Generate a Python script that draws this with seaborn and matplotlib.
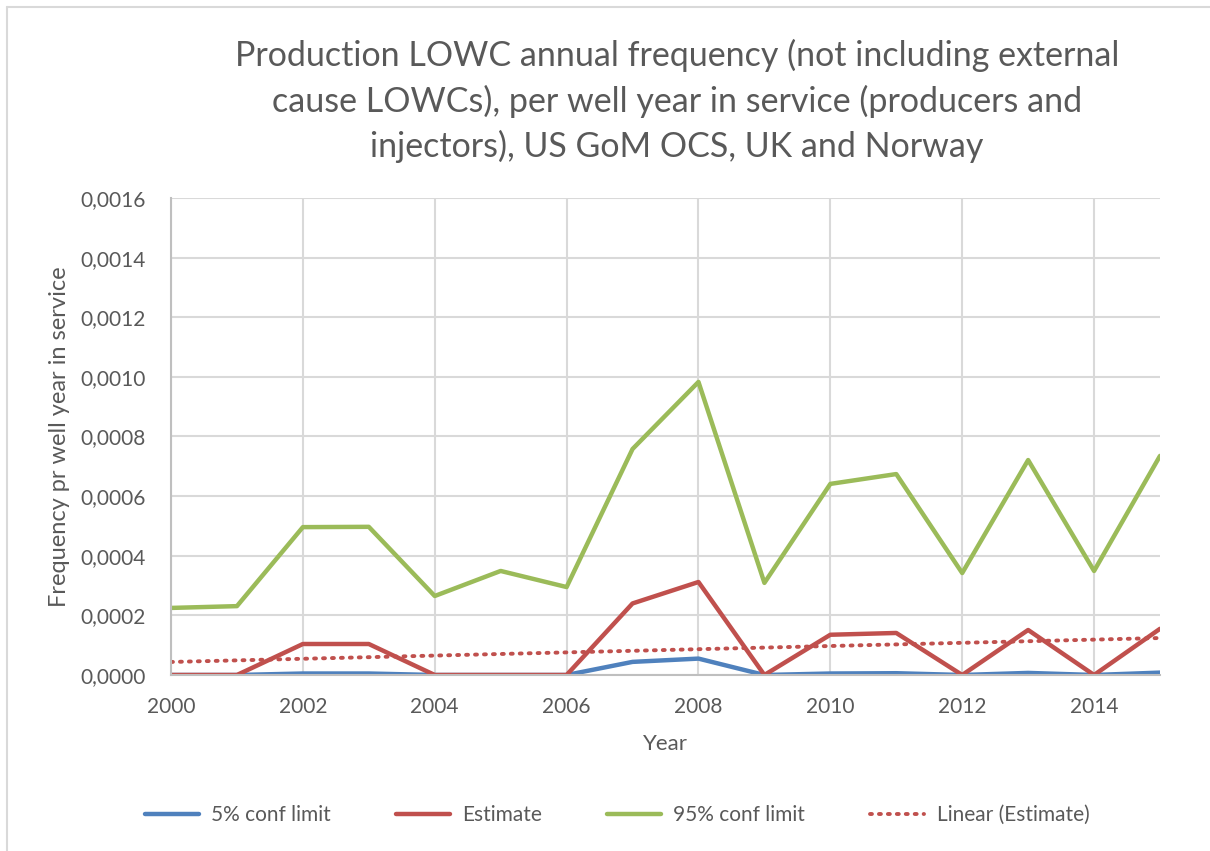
import numpy as np
import pandas as pd
import matplotlib
matplotlib.use("Agg")
import matplotlib.pyplot as plt
from matplotlib.ticker import FuncFormatter, MultipleLocator
from matplotlib.lines import Line2D
import seaborn as sns

# Dados (frequência anual por poço-ano em serviço)
anos = list(range(2000, 2016))
limite_5 = [0.0, 0.0, 0.000005, 0.000005, 0.0, 0.0, 0.0, 0.000044,
            0.000055, 0.0, 0.000005, 0.000006, 0.0, 0.000007, 0.0, 0.000008]
estimativa = [0.0, 0.0, 0.000104, 0.000104, 0.0, 0.0, 0.0, 0.000240,
              0.000312, 0.0, 0.000135, 0.000141, 0.0, 0.000151, 0.0, 0.000155]
limite_95 = [0.000225, 0.000231, 0.000496, 0.000497, 0.000265, 0.000349, 0.000295, 0.000758,
             0.000983, 0.000309, 0.000641, 0.000674, 0.000342, 0.000721, 0.000349, 0.000735]

series = ['5% conf limit', 'Estimate', '95% conf limit']
cores = ['#4f81bd', '#c0504d', '#9bbb59']

titulo = ("Production LOWC annual frequency (not including external\n"
          "cause LOWCs), per well year in service (producers and\n"
          "injectors), US GoM OCS, UK and Norway")

df = pd.DataFrame({'Year': anos, series[0]: limite_5,
                   series[1]: estimativa, series[2]: limite_95})
df_longo = df.melt(id_vars='Year', var_name='serie', value_name='freq')

# Tendência linear da estimativa (como no Excel)
coef = np.polyfit(anos, estimativa, 1)
df_tend = pd.DataFrame({'Year': anos, 'freq': np.polyval(coef, anos)})

sns.set_style('white')
plt.rcParams['font.family'] = ['Lato', 'DejaVu Sans']
cinza_texto = '#595959'
pontilhado = (0, (0.5, 1.8))

fig = plt.figure(figsize=(12.1, 8.51), dpi=100)
ax = fig.add_axes([171 / 1210, 1 - 675 / 851, (1160 - 171) / 1210, (675 - 198) / 851])

sns.lineplot(data=df_longo, x='Year', y='freq', hue='serie', hue_order=series,
             palette=cores, linewidth=3.2, ax=ax, legend=False)
sns.lineplot(data=df_tend, x='Year', y='freq', color='#c0504d', linewidth=2.8,
             linestyle=pontilhado, dash_capstyle='round', ax=ax, legend=False)

ax.set_xlim(2000, 2015)
ax.set_ylim(0, 0.0016)
ax.xaxis.set_major_locator(MultipleLocator(2))
ax.yaxis.set_major_locator(MultipleLocator(0.0002))
ax.yaxis.set_major_formatter(FuncFormatter(lambda v, p: f"{v:.4f}".replace('.', ',')))
ax.grid(True, color='#d9d9d9', linewidth=1.5)
ax.set_axisbelow(True)
for lado in ['top', 'right']:
    ax.spines[lado].set_visible(False)
for lado in ['left', 'bottom']:
    ax.spines[lado].set_color('#bfbfbf')
    ax.spines[lado].set_linewidth(1.5)
ax.tick_params(axis='both', length=0, labelsize=15, colors=cinza_texto)
ax.tick_params(axis='x', pad=16)
ax.tick_params(axis='y', pad=18)

ax.set_xlabel('Year', fontsize=16, color=cinza_texto, labelpad=12)
ax.set_ylabel('Frequency pr well year in service', fontsize=17, color=cinza_texto, labelpad=8)
fig.text(677 / 1210, 1 - 101 / 851, titulo, ha='center', va='center', fontsize=24.5,
         color=cinza_texto, linespacing=1.45)

# Legenda inferior
alcas = [Line2D([], [], color=c, linewidth=3.2) for c in cores]
alcas.append(Line2D([], [], color='#c0504d', linewidth=2.8, linestyle=pontilhado,
                    dash_capstyle='round'))
rotulos = series + ['Linear (Estimate)']
fig.legend(alcas, rotulos, loc='center', bbox_to_anchor=(617 / 1210, 1 - 815 / 851), ncol=4,
           frameon=False, fontsize=15, labelcolor=cinza_texto, handlelength=2.6,
           handletextpad=0.6, columnspacing=3.1)

# Moldura do gráfico (apenas superior e esquerda visíveis)
fig.add_artist(Line2D([7 / 1210, 7 / 1210], [0, 1 - 7 / 851], color='#d9d9d9', linewidth=1.5))
fig.add_artist(Line2D([7 / 1210, 1], [1 - 7 / 851, 1 - 7 / 851], color='#d9d9d9', linewidth=1.5))

fig.savefig('out.png', dpi=100)
plt.close(fig)
